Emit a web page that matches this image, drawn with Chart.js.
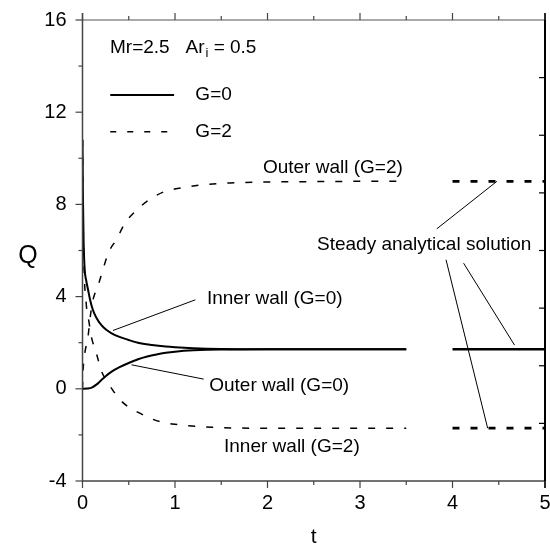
<!DOCTYPE html>
<html>
<head>
<meta charset="UTF-8">
<title>Q vs t</title>
<script src="https://cdn.jsdelivr.net/npm/chart.js"></script>
<style>
  body { margin: 0; background: #fff; }
  canvas { display: block; }
</style>
</head>
<body>
<canvas id="graph" width="550" height="544"></canvas>
<script>
// numerical solution, G=0
const tInner0 = [0, 0.005, 0.012, 0.024, 0.04, 0.06, 0.08, 0.11, 0.15, 0.2, 0.25, 0.31, 0.4, 0.49, 0.6, 0.75, 0.9, 1.0, 1.2, 1.5, 2.0, 2.5, 3.0, 3.5];
const qInner0 = [10.8, 8.3, 6.4, 5.16, 4.7, 4.3, 3.9, 3.45, 3.08, 2.78, 2.58, 2.42, 2.25, 2.13, 2.0, 1.9, 1.83, 1.8, 1.76, 1.73, 1.72, 1.72, 1.72, 1.72];
const tOuter0 = [0, 0.05, 0.1, 0.15, 0.2, 0.25, 0.3, 0.35, 0.4, 0.5, 0.6, 0.7, 0.8, 0.9, 1.0, 1.2, 1.5, 2.0, 2.5, 3.0, 3.5];
const qOuter0 = [0, 0.01, 0.05, 0.18, 0.36, 0.54, 0.7, 0.83, 0.94, 1.12, 1.28, 1.4, 1.49, 1.56, 1.61, 1.67, 1.71, 1.72, 1.72, 1.72, 1.72];
// numerical solution, G=2
const tOuter2 = [0, 0.005, 0.02, 0.06, 0.08, 0.11, 0.17, 0.22, 0.28, 0.37, 0.46, 0.59, 0.73, 0.89, 1.09, 1.3, 1.6, 2.0, 2.5, 3.0, 3.5];
const qOuter2 = [0, 0.68, 1.4, 2.27, 3.0, 3.79, 4.5, 5.16, 5.9, 6.5, 7.19, 7.77, 8.23, 8.56, 8.73, 8.85, 8.93, 8.97, 8.99, 9.0, 9.0];
const tInner2 = [0, 0.005, 0.015, 0.04, 0.07, 0.095, 0.15, 0.2, 0.29, 0.39, 0.5, 0.59, 0.7, 0.84, 1.0, 1.13, 1.4, 1.63, 2.0, 2.5, 3.0, 3.5];
const qInner2 = [10.8, 8.0, 5.5, 3.7, 2.9, 2.27, 1.55, 0.82, 0.17, -0.4, -0.8, -1.0, -1.22, -1.43, -1.54, -1.6, -1.67, -1.7, -1.71, -1.71, -1.71, -1.71];
// steady analytical solution
const tSteady = [4, 5];
const qSteady0 = [1.72, 1.72];
const qSteadyOuter2 = [9.0, 9.0];
const qSteadyInner2 = [-1.71, -1.71];

const xTicks = [0, 1, 2, 3, 4, 5];
const yTicks = [-4, 0, 4, 8, 12, 16];

// labels: [text, t, Q] (left edge, vertical middle)
const labels = [
  ['Outer wall (G=2)', 1.95, 9.6],
  ['Inner wall (G=0)', 1.345, 3.92],
  ['Outer wall (G=0)', 1.37, 0.13],
  ['Inner wall (G=2)', 1.53, -2.52],
  ['Steady analytical solution', 2.535, 6.25]
];
// leader lines: [t1, Q1, t2, Q2]
const leaders = [
  [0.33, 2.53, 1.22, 3.86],
  [0.53, 1.04, 1.31, 0.42],
  [3.83, 6.94, 4.48, 9.0],
  [3.93, 5.6, 4.38, -1.71],
  [4.12, 5.45, 4.67, 1.9]
];

function pts(t, q) { return t.map((v, i) => ({ x: v, y: q[i] })); }

const FONT = '"Liberation Sans", Arial, sans-serif';
const dashNum = [7, 11];

const decor = {
  id: 'decor',
  afterDraw(chart) {
    const ctx = chart.ctx, a = chart.chartArea;
    const xs = chart.scales.x, ys = chart.scales.y;
    const px = v => xs.getPixelForValue(v), py = v => ys.getPixelForValue(v);
    ctx.save();
    // frame
    ctx.strokeStyle = '#555'; ctx.lineWidth = 1;
    ctx.beginPath(); ctx.moveTo(a.left, a.top); ctx.lineTo(a.right, a.top); ctx.stroke();
    ctx.strokeStyle = '#444'; ctx.lineWidth = 1.5;
    ctx.beginPath(); ctx.moveTo(a.left, a.top - 7); ctx.lineTo(a.left, a.bottom); ctx.lineTo(a.right, a.bottom); ctx.stroke();
    ctx.strokeStyle = '#000'; ctx.lineWidth = 2;
    ctx.beginPath(); ctx.moveTo(a.right, a.top - 7); ctx.lineTo(a.right, a.bottom + 7); ctx.stroke();
    // x tick marks (bottom outward, top outward)
    ctx.strokeStyle = '#444'; ctx.lineWidth = 1.2;
    for (let v = 0; v <= 5.001; v += 0.5) {
      const major = Math.abs(v - Math.round(v)) < 1e-6;
      const len = major ? 7 : 4;
      const x = px(v);
      ctx.beginPath();
      ctx.moveTo(x, a.bottom); ctx.lineTo(x, a.bottom + len);
      ctx.moveTo(x, a.top); ctx.lineTo(x, a.top - len);
      ctx.stroke();
    }
    // y tick marks left
    for (let v = -4; v <= 16; v += 2) {
      const len = v % 4 === 0 ? 7 : 4;
      const y = py(v);
      ctx.beginPath(); ctx.moveTo(a.left, y); ctx.lineTo(a.left - len, y); ctx.stroke();
    }
    // right ticks inward
    ctx.strokeStyle = '#000';
    for (let v = -1.5; v < 16; v += 2.5) {
      const y = py(v);
      ctx.beginPath(); ctx.moveTo(a.right, y); ctx.lineTo(a.right - 6, y); ctx.stroke();
    }
    // leader lines
    ctx.strokeStyle = '#000'; ctx.lineWidth = 1;
    leaders.forEach(l => {
      ctx.beginPath(); ctx.moveTo(px(l[0]), py(l[1])); ctx.lineTo(px(l[2]), py(l[3])); ctx.stroke();
    });
    // labels
    ctx.fillStyle = '#000';
    ctx.font = '19px ' + FONT;
    ctx.textBaseline = 'middle'; ctx.textAlign = 'left';
    labels.forEach(l => ctx.fillText(l[0], px(l[1]), py(l[2])));
    // parameters
    let x0 = px(0.297), y0 = py(14.79);
    ctx.fillText('Mr=2.5   Ar', x0, y0);
    x0 += ctx.measureText('Mr=2.5   Ar').width;
    ctx.font = '13px ' + FONT;
    ctx.fillText('i', x0 + 1, y0 + 6);
    x0 += ctx.measureText('i').width + 1;
    ctx.font = '19px ' + FONT;
    ctx.fillText(' = 0.5', x0, y0);
    // legend
    ctx.lineWidth = 2;
    ctx.beginPath(); ctx.moveTo(px(0.3), py(12.75)); ctx.lineTo(px(0.99), py(12.75)); ctx.stroke();
    ctx.fillText('G=0', px(1.22), py(12.75));
    ctx.lineWidth = 1.5; ctx.setLineDash([6, 11]);
    ctx.beginPath(); ctx.moveTo(px(0.3), py(11.15)); ctx.lineTo(px(0.99), py(11.15)); ctx.stroke();
    ctx.setLineDash([]);
    ctx.fillText('G=2', px(1.22), py(11.15));
    // axis titles
    ctx.font = '25px ' + FONT; ctx.textAlign = 'center';
    ctx.fillText('Q', 28, py(5.76));
    ctx.font = '21px ' + FONT; ctx.textBaseline = 'alphabetic';
    ctx.fillText('t', px(2.5), 543);
    ctx.restore();
  }
};

const lineDs = (data, width, dash) => ({
  data: data, borderColor: '#000', borderWidth: width, borderDash: dash,
  pointRadius: 0, fill: false, cubicInterpolationMode: 'monotone'
});

new Chart(document.getElementById('graph').getContext('2d'), {
  type: 'line',
  data: {
    datasets: [
      lineDs(pts(tInner0, qInner0), 2, []),
      lineDs(pts(tOuter0, qOuter0), 2, []),
      lineDs(pts(tOuter2, qOuter2), 1.5, dashNum),
      lineDs(pts(tInner2, qInner2), 1.5, dashNum),
      lineDs(pts(tSteady, qSteady0), 2.5, []),
      lineDs(pts(tSteady, qSteadyOuter2), 2.8, dashNum),
      lineDs(pts(tSteady, qSteadyInner2), 2.8, dashNum)
    ]
  },
  options: {
    responsive: false,
    animation: false,
    layout: { padding: { top: 20, right: 5, left: 0, bottom: 0 } },
    plugins: { legend: { display: false }, tooltip: { enabled: false } },
    scales: {
      x: {
        type: 'linear', min: 0, max: 5,
        afterBuildTicks: s => { s.ticks = xTicks.map(v => ({ value: v })); },
        afterFit: s => { s.height = 63; s.paddingLeft = 0; s.paddingRight = 0; },
        grid: { display: false, drawTicks: false },
        border: { display: false },
        ticks: { color: '#000', font: { size: 20, family: FONT }, padding: 10 }
      },
      y: {
        type: 'linear', min: -4, max: 16,
        afterBuildTicks: s => { s.ticks = yTicks.map(v => ({ value: v })); },
        afterFit: s => { s.width = 82.5; s.paddingTop = 0; s.paddingBottom = 0; },
        grid: { display: false, drawTicks: false },
        border: { display: false },
        ticks: { color: '#000', font: { size: 20, family: FONT }, padding: 16 }
      }
    }
  },
  plugins: [decor]
});
</script>
</body>
</html>
